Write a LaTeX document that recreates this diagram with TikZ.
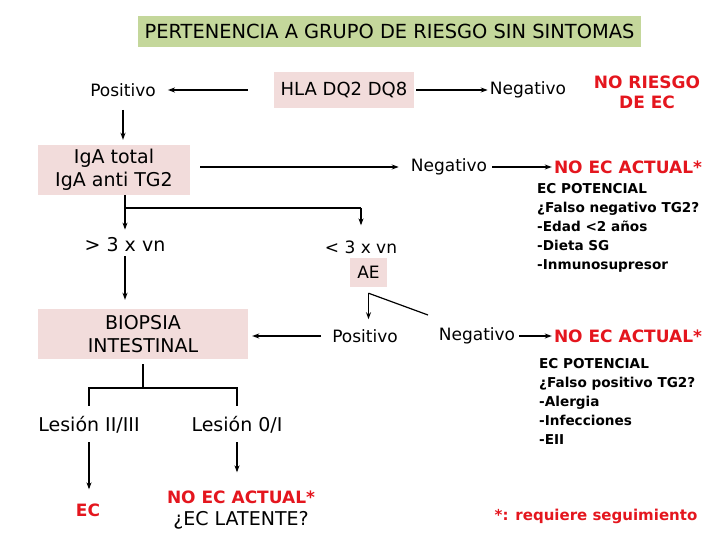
\documentclass[tikz,border=0pt]{standalone}
\usepackage{fontspec}
\setmainfont{DejaVu Sans}
\usetikzlibrary{arrows.meta}
\definecolor{titlegreen}{RGB}{196,215,155}
\definecolor{boxpink}{RGB}{242,220,219}
\definecolor{ecred}{RGB}{228,22,30}
\tikzset{
  lbl/.style={font=\fontsize{17}{20}\selectfont, inner sep=2pt, align=center},
  biglbl/.style={font=\fontsize{19}{22}\selectfont, inner sep=2pt, align=center},
  redlbl/.style={font=\bfseries\fontsize{17}{20}\selectfont, text=ecred, inner sep=2pt, align=center},
  pinkbox/.style={fill=boxpink, align=center, inner sep=2pt, font=\fontsize{19}{23}\selectfont},
  listtxt/.style={font=\bfseries\fontsize{13.6}{19}\selectfont, align=left, anchor=north west, inner sep=0pt},
  arr/.style={-{Stealth[length=7pt,width=5pt]}, line width=1.2pt},
  ln/.style={line width=1.2pt}
}
\begin{document}
\begin{tikzpicture}[x=1pt,y=-1pt]
\useasboundingbox (0,0) rectangle (720,540);
% nodes
\node[fill=titlegreen, minimum width=503pt, minimum height=31pt, font=\fontsize{19.4}{22}\selectfont] (title) at (389.5,31.5) {PERTENENCIA A GRUPO DE RIESGO SIN SINTOMAS};
\node[pinkbox, font=\fontsize{18}{22}\selectfont, minimum width=140pt, minimum height=36pt] (hla) at (344,90) {HLA DQ2 DQ8};
\node[lbl] (pos1) at (123,90) {Positivo};
\node[lbl] (neg1) at (528,90) {Negativo};
\node[redlbl] (noriesgo) at (647,92) {NO RIESGO\\DE EC};
\node[pinkbox, minimum width=152pt, minimum height=50pt] (iga) at (114,170) {IgA total\\IgA anti TG2};
\node[lbl] (neg2) at (449,167) {Negativo};
\node[redlbl] (noec1) at (628,167) {NO EC ACTUAL*};
\node[listtxt] (pot1) at (537,183) {EC POTENCIAL\\¿Falso negativo TG2?\\-Edad <2 años\\-Dieta SG\\-Inmunosupresor};
\coordinate (s1) at (0,208);
\node[biglbl] (gt) at (125,245) {> 3 x vn};
\node[lbl] (lt) at (361,247) {< 3 x vn};
\node[pinkbox, font=\fontsize{17}{20}\selectfont, minimum width=37pt, minimum height=29pt] (ae) at (368.5,272.5) {AE};
\node[pinkbox, minimum width=210pt, minimum height=50pt] (biop) at (143,334) {BIOPSIA\\INTESTINAL};
\node[lbl] (pos2) at (365,336) {Positivo};
\node[lbl] (neg3) at (477,336) {Negativo};
\node[redlbl] (noec3) at (628,336) {NO EC ACTUAL*};
\node[listtxt] (pot2) at (539,358) {EC POTENCIAL\\¿Falso positivo TG2?\\-Alergia\\-Infecciones\\-EII};
\coordinate (s2) at (0,388);
\node[biglbl] (les1) at (89,425) {Lesión II/III};
\node[biglbl] (les2) at (237,425) {Lesión 0/I};
\node[redlbl] (ec) at (88,510) {EC};
\node[redlbl] (noec4) at (241,497) {NO EC ACTUAL*};
\node[biglbl] (lat) at (241,520) {¿EC LATENTE?};
\node[redlbl, font=\bfseries\fontsize{15}{17}\selectfont] (note) at (596,516) {*: requiere seguimiento};
\coordinate (j) at ([yshift=-6pt]ae.south);
\coordinate (dg) at (428,315);
% connectors
\draw[arr, shorten <=26pt, shorten >=10pt] (hla) -- (pos1);
\draw[arr, shorten <=2pt] (hla) -- (neg1);
\draw[arr, shorten <=11pt, shorten >=5pt] (pos1.south) -- (pos1.south |- iga.north);
\draw[arr, shorten <=10pt, shorten >=10pt] (iga.east |- neg2.west) -- (neg2.west);
\draw[arr, shorten <=3pt] (neg2) -- (noec1);
\draw[ln] (iga.south -| gt.north) -- (gt.north |- s1) -- (lt.north |- s1);
\draw[arr, shorten >=6pt] (gt.north |- s1) -- (gt.north);
\draw[arr, shorten >=13pt] (lt.north |- s1) -- (lt.north);
\draw[arr, shorten <=2pt, shorten >=9pt] (gt.south) -- (gt.south |- biop.north);
\draw[arr, shorten >=8pt] (j) -- (j |- pos2.north);
\draw[ln] (j) -- (dg);
\draw[arr, shorten <=9pt, shorten >=4pt] (pos2.west) -- (pos2.west -| biop.east);
\draw[arr, shorten <=2pt] (neg3) -- (noec3);
\draw[ln, shorten <=5pt] (biop.south) -- (biop.south |- s2);
\draw[ln, shorten <=8.5pt, shorten >=8.5pt] (les1.north) -- (les1.north |- s2) -- (les2.north |- s2) -- (les2.north);
\draw[arr, shorten <=6.5pt, shorten >=12pt] (les1.south) -- (les1.south |- ec.north);
\draw[arr, shorten <=6.5pt, shorten >=16pt] (les2.south) -- (les2.south |- noec4.north);
\end{tikzpicture}
\end{document}
